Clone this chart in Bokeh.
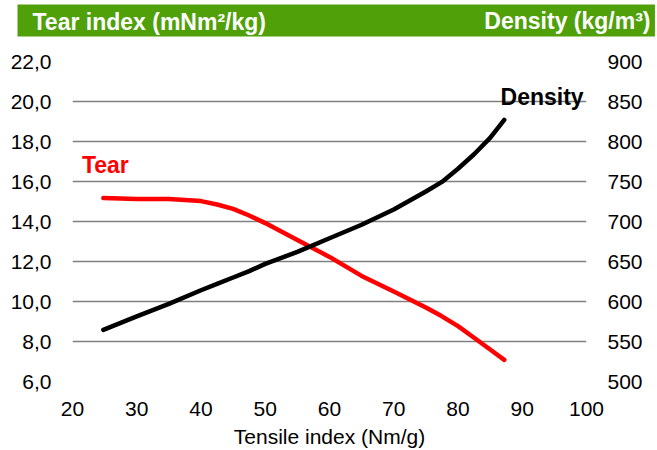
from bokeh.plotting import figure
from bokeh.models import Range1d, LinearAxis, FixedTicker, Label, Title
from bokeh.embed import file_html
from bokeh.resources import INLINE

# ---- data ----
tensile = [24.8, 30, 35, 40, 42.5, 45, 47.5, 50, 55, 60, 65, 70, 75, 77.5, 80, 82.5, 85, 87.2]
tear = [15.17, 15.13, 15.13, 15.02, 14.85, 14.63, 14.30, 13.92, 13.08, 12.23, 11.28, 10.50,
        9.70, 9.26, 8.77, 8.19, 7.60, 7.08]
density = [564.6, 581.5, 597, 614, 622, 630, 638, 647, 662, 679, 696, 715,
           737.5, 749.5, 766, 784, 804.5, 827]

x_ticks = [20, 30, 40, 50, 60, 70, 80, 90, 100]
left_ticks = [6, 8, 10, 12, 14, 16, 18, 20, 22]
left_labels = ["6,0", "8,0", "10,0", "12,0", "14,0", "16,0", "18,0", "20,0", "22,0"]
right_ticks = [500, 550, 600, 650, 700, 750, 800, 850, 900]

left_title = "Tear index (mNm²/kg)"
right_title = "Density (kg/m³)"
x_title = "Tensile index (Nm/g)"
series_names = ["Tear", "Density"]

FONT = "Liberation Sans"
GREEN = "#50A00A"
W, H = 657, 450

p = figure(width=W, height=H, output_backend="svg", toolbar_location=None, title=None,
           x_range=Range1d(20, 100), y_range=Range1d(6, 22),
           min_border_left=72, min_border_right=71, min_border_top=61, min_border_bottom=69)
p.extra_y_ranges = {"density": Range1d(500, 900)}
p.outline_line_color = None
p.background_fill_color = "white"
p.border_fill_color = "white"

# ---- header bar: stacked "above" panels ----
spacer = Title(text=" ", text_font_size="10px", standoff=12, text_color="white")
t_left = Title(text=left_title, align="left", offset=-55, standoff=0,
               text_color="white", text_font=FONT, text_font_size="23px",
               text_font_style="bold", background_fill_color=GREEN,
               padding=dict(left=15, right=389, top=4, bottom=2))
t_right = Title(text=right_title, align="right", offset=-64, standoff=-62,
                text_color="white", text_font=FONT, text_font_size="23px",
                text_font_style="bold")
p.add_layout(spacer, "above")
p.add_layout(t_left, "above")
p.add_layout(t_right, "above")

# ---- grid & axes ----
p.xgrid.visible = False
p.ygrid.ticker = FixedTicker(ticks=left_ticks)
p.ygrid.grid_line_color = "#808080"
p.ygrid.grid_line_width = 1.5

p.xaxis.ticker = FixedTicker(ticks=x_ticks)
p.xaxis.axis_label = x_title
p.xaxis.axis_label_standoff = 6
p.xaxis.axis_label_text_font = FONT
p.xaxis.axis_label_text_font_size = "21px"
p.xaxis.axis_label_text_font_style = "normal"
p.xaxis.axis_label_text_color = "black"

p.yaxis.ticker = FixedTicker(ticks=left_ticks)
p.yaxis.major_label_overrides = {t: l for t, l in zip(left_ticks, left_labels)}

raxis = LinearAxis(y_range_name="density", ticker=FixedTicker(ticks=right_ticks))
p.add_layout(raxis, "right")

for ax in [p.xaxis[0], p.yaxis[0], raxis]:
    ax.axis_line_color = None
    ax.major_tick_line_color = None
    ax.minor_tick_line_color = None
    ax.major_label_text_font = FONT
    ax.major_label_text_font_size = "21px"
    ax.major_label_text_color = "black"
    ax.major_label_standoff = 15
p.xaxis.major_label_standoff = 14

# ---- series ----
p.line(tensile, tear, line_color="#FF0000", line_width=4.5, line_cap="round", line_join="round")
p.line(tensile, density, y_range_name="density", line_color="black", line_width=4.5,
       line_cap="round", line_join="round")

p.add_layout(Label(x=21.46, y=16.85, text=series_names[0], text_color="#FF0000",
                   text_font=FONT, text_font_size="23px", text_font_style="bold",
                   text_baseline="alphabetic", text_align="left"))
p.add_layout(Label(x=86.62, y=20.24, text=series_names[1], text_color="black",
                   text_font=FONT, text_font_size="23px", text_font_style="bold",
                   text_baseline="alphabetic", text_align="left"))

open("out.html", "w").write(file_html(p, INLINE))
